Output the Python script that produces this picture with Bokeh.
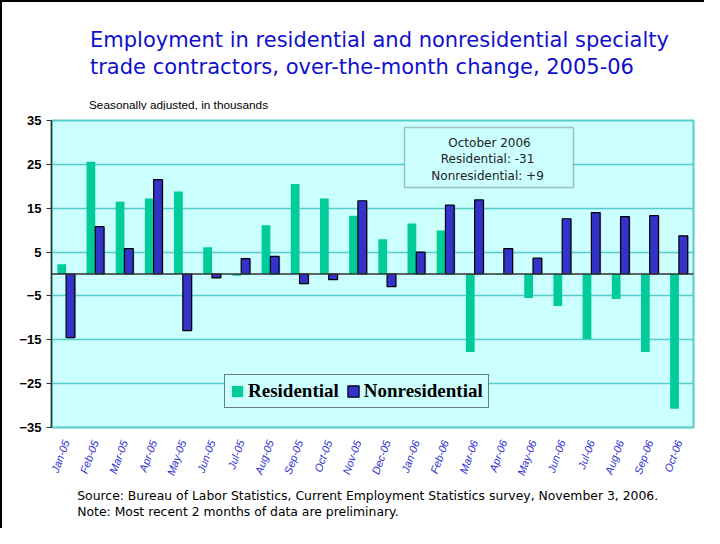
from bokeh.plotting import figure
from bokeh.layouts import column
from bokeh.models import (FactorRange, FixedTicker, Span, Label, BoxAnnotation,
                          Legend, LegendItem, ColumnDataSource)
from bokeh.transform import dodge
from bokeh.embed import file_html
from bokeh.resources import INLINE

months = ["Jan-05", "Feb-05", "Mar-05", "Apr-05", "May-05", "Jun-05", "Jul-05",
          "Aug-05", "Sep-05", "Oct-05", "Nov-05", "Dec-05", "Jan-06", "Feb-06",
          "Mar-06", "Apr-06", "May-06", "Jun-06", "Jul-06", "Aug-06", "Sep-06",
          "Oct-06"]
residential = [2.2, 25.6, 16.5, 17.2, 18.8, 6.1, -0.4, 11.1, 20.5, 17.2, 13.3,
               7.9, 11.5, 9.9, -17.8, -0.1, -5.5, -7.3, -14.8, -5.7, -17.8, -30.7]
nonresidential = [-14.5, 10.8, 5.8, 21.5, -12.9, -0.9, 3.5, 4.0, -2.2, -1.3, 16.7,
                  -2.9, 5.0, 15.7, 16.9, 5.8, 3.6, 12.6, 14.0, 13.1, 13.3, 8.7]
y_ticks = [-35, -25, -15, -5, 5, 15, 25, 35]

title_lines = ["Employment in residential and nonresidential specialty",
               "trade contractors, over-the-month change, 2005-06"]
subtitle = "Seasonally adjusted, in thousands"
source_lines = ["Source:  Bureau of Labor Statistics, Current Employment Statistics survey, November 3, 2006.",
                "Note:  Most recent 2 months of data are preliminary."]
box_lines = ["October 2006", "Residential:  -31", "Nonresidential:  +9"]

GREEN = "#00CC99"
BLUE = "#3333CC"
BG = "#CCFFFF"
GRID = "#55CCCC"
TITLE_BLUE = "#1010CC"
W = 702
BL, BR = 49, 11   # left / right borders shared by all panels


def text_panel(height):
    f = figure(width=W, height=height, output_backend="svg", toolbar_location=None,
               x_axis_location=None, y_axis_location=None,
               min_border_left=BL, min_border_right=BR,
               min_border_top=0, min_border_bottom=0,
               x_range=(0, 1), y_range=(0, 1))
    f.outline_line_color = None
    f.grid.visible = False
    f.background_fill_color = "white"
    f.border_fill_color = "white"
    return f


# ---- header with title and subtitle ----
head = text_panel(108)
for txt, yy in zip(title_lines, [71, 44]):
    head.add_layout(Label(x=38.5, y=yy, x_units="screen", y_units="screen", text=txt,
                          text_align="left", text_baseline="alphabetic",
                          text_font="DejaVu Sans", text_font_size="21px",
                          text_color=TITLE_BLUE))
head.add_layout(Label(x=37.5, y=6, x_units="screen", y_units="screen", text=subtitle,
                      text_align="left", text_baseline="alphabetic",
                      text_font="Liberation Sans", text_font_size="11.8px",
                      text_color="black"))

# ---- main chart ----
p = figure(x_range=FactorRange(*months, range_padding=0), y_range=(-35, 35),
           width=W, height=372, output_backend="svg", toolbar_location=None,
           min_border_left=BL, min_border_right=BR, min_border_top=10,
           min_border_bottom=55)

p.background_fill_color = BG
p.border_fill_color = "white"
p.outline_line_color = GRID
p.outline_line_width = 2
p.xgrid.grid_line_color = None
p.ygrid.ticker = FixedTicker(ticks=y_ticks)
p.ygrid.grid_line_color = GRID
p.ygrid.grid_line_width = 1.5

p.yaxis.ticker = FixedTicker(ticks=y_ticks)
p.yaxis.major_label_text_font = "Liberation Sans"
p.yaxis.major_label_text_font_style = "bold"
p.yaxis.major_label_text_font_size = "13px"
p.yaxis.major_label_text_color = "black"
p.yaxis.axis_line_color = "#333333"
p.yaxis.axis_line_width = 1.5
p.yaxis.major_tick_line_color = "#333333"
p.yaxis.major_tick_out = 5
p.yaxis.major_tick_in = 0
p.yaxis.minor_tick_line_color = None
p.yaxis.major_label_standoff = 5

p.xaxis.major_label_orientation = 1.22
p.xaxis.major_label_text_font = "Liberation Sans"
p.xaxis.major_label_text_font_style = "italic"
p.xaxis.major_label_text_font_size = "11px"
p.xaxis.major_label_text_color = BLUE
p.xaxis.axis_line_color = None
p.xaxis.major_tick_line_color = None
p.xaxis.minor_tick_line_color = None
p.xaxis.major_label_standoff = 7

src = ColumnDataSource(dict(month=months, res=residential, nonres=nonresidential))
r1 = p.vbar(x=dodge("month", -0.15, range=p.x_range), top="res", width=0.3,
            source=src, fill_color=GREEN, line_color=None)
p.vbar(x=dodge("month", 0.19, range=p.x_range), top="nonres", width=0.3,
       source=src, fill_color="#888888", fill_alpha=0.5, line_color=None)
r2 = p.vbar(x=dodge("month", 0.15, range=p.x_range), top="nonres", width=0.3,
            source=src, fill_color=BLUE, line_color="black", line_width=1.2)

p.add_layout(Span(location=0, dimension="width", line_color="#333333", line_width=1.5))

legend = Legend(items=[LegendItem(label="Residential", renderers=[r1]),
                       LegendItem(label="Nonresidential", renderers=[r2])],
                location=(173, 19), orientation="horizontal", margin=0,
                padding=5, spacing=7, label_standoff=4,
                glyph_width=14, glyph_height=14, label_height=17,
                label_text_font="Liberation Serif", label_text_font_style="bold",
                label_text_font_size="19px", label_text_color="black",
                border_line_color="black", border_line_width=1,
                background_fill_color=BG, background_fill_alpha=1)
p.add_layout(legend)

p.add_layout(BoxAnnotation(left=353, right=522, top=300, bottom=240,
                           left_units="screen", right_units="screen",
                           top_units="screen", bottom_units="screen",
                           fill_color=BG, fill_alpha=1, line_color="#333333",
                           line_width=1.5))
for txt, yy in zip(box_lines, [285, 268.5, 252]):
    p.add_layout(Label(x=438, y=yy, x_units="screen", y_units="screen", text=txt,
                       text_align="center", text_baseline="middle",
                       text_font="DejaVu Sans", text_font_size="12px",
                       text_color="#222222"))

# ---- footer with source notes ----
foot = text_panel(46)
for txt, yy in zip(source_lines, [33, 17.5]):
    foot.add_layout(Label(x=25.7, y=yy, x_units="screen", y_units="screen", text=txt,
                          text_align="left", text_baseline="alphabetic",
                          text_font="DejaVu Sans", text_font_size="12.4px",
                          text_color="black"))

page = column(head, p, foot, spacing=0)
page.styles = {"border-top": "2px solid black", "border-left": "2px solid black"}

open("out.html", "w").write(file_html(page, INLINE))
